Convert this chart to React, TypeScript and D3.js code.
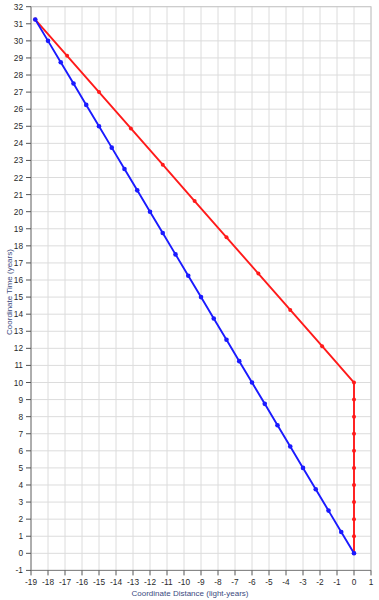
import React from "react";
import * as d3 from "d3";

const blueX = [0, -0.75, -1.5, -2.25, -3, -3.75, -4.5, -5.25, -6, -6.75, -7.5, -8.25, -9, -9.75, -10.5, -11.25, -12, -12.75, -13.5, -14.25, -15, -15.75, -16.5, -17.25, -18, -18.75];
const blueT = [0, 1.25, 2.5, 3.75, 5, 6.25, 7.5, 8.75, 10, 11.25, 12.5, 13.75, 15, 16.25, 17.5, 18.75, 20, 21.25, 22.5, 23.75, 25, 26.25, 27.5, 28.75, 30, 31.25];
const redX = [0, 0, 0, 0, 0, 0, 0, 0, 0, 0, 0, -1.875, -3.75, -5.625, -7.5, -9.375, -11.25, -13.125, -15, -16.875, -18.75];
const redT = [0, 1, 2, 3, 4, 5, 6, 7, 8, 9, 10, 12.125, 14.25, 16.375, 18.5, 20.625, 22.75, 24.875, 27, 29.125, 31.25];
const xTicks = d3.range(-19, 2);
const yTicks = d3.range(-1, 33);
const xTitle = "Coordinate Distance (light-years)";
const yTitle = "Coordinate Time (years)";

export default function App() {
  const W = 379, H = 600;
  const x = d3.scaleLinear().domain([-19, 1]).range([31, 371]);
  const y = d3.scaleLinear().domain([-1, 32]).range([570.4, 6.7]);
  const line = d3.line<[number, number]>().x(d => x(d[0])).y(d => y(d[1]));
  const blue: [number, number][] = blueX.map((v, i) => [v, blueT[i]]);
  const red: [number, number][] = redX.map((v, i) => [v, redT[i]]);
  const font = "Tahoma, 'Liberation Sans', Arial, sans-serif";
  return (
    <svg width={W} height={H} style={{ position: "absolute", left: 0, top: 0, background: "#fff" }} fontFamily={font}>
      <rect x={0} y={0} width={W} height={H} fill="#fff" />
      {xTicks.map(t => (
        <line key={"gx" + t} x1={x(t)} x2={x(t)} y1={y(32)} y2={y(-1)} stroke="#dcdcdc" strokeWidth={1} />
      ))}
      {yTicks.map(t => (
        <line key={"gy" + t} x1={x(-19)} x2={x(1)} y1={y(t)} y2={y(t)} stroke="#dcdcdc" strokeWidth={1} />
      ))}
      <rect x={x(-19)} y={y(32)} width={x(1) - x(-19)} height={y(-1) - y(32)} fill="none" stroke="#c8c8c8" />
      <line x1={x(-19)} x2={x(-19)} y1={y(32)} y2={y(-1)} stroke="#808080" />
      <line x1={x(-19)} x2={x(1)} y1={y(-1)} y2={y(-1)} stroke="#808080" />
      {xTicks.map(t => (
        <g key={"tx" + t}>
          <line x1={x(t)} x2={x(t)} y1={y(-1)} y2={y(-1) + 5} stroke="#555" />
          <text x={x(t)} y={582} fontSize={8.3} fill="#2a2a2a" textAnchor="middle" dominantBaseline="central">{t}</text>
        </g>
      ))}
      {yTicks.map(t => (
        <g key={"ty" + t}>
          <line x1={x(-19) - 5} x2={x(-19)} y1={y(t)} y2={y(t)} stroke="#555" />
          <text x={23} y={y(t)} fontSize={8.3} fill="#2a2a2a" textAnchor="end" dominantBaseline="central">{t}</text>
        </g>
      ))}
      <text x={190} y={593} fontSize={8} fill="#3b4a80" textAnchor="middle" dominantBaseline="central">{xTitle}</text>
      <text transform={`translate(9,292) rotate(-90)`} fontSize={8} fill="#3b4a80" textAnchor="middle" dominantBaseline="central">{yTitle}</text>
      <path d={line(red) || ""} fill="none" stroke="#ff1a1a" strokeWidth={1.9} />
      {red.map((d, i) => (
        <circle key={"r" + i} cx={x(d[0])} cy={y(d[1])} r={2} fill="#ff1a1a" />
      ))}
      <path d={line(blue) || ""} fill="none" stroke="#1a1aff" strokeWidth={1.9} />
      {blue.map((d, i) => (
        <circle key={"b" + i} cx={x(d[0])} cy={y(d[1])} r={2.3} fill="#1a1aff" />
      ))}
    </svg>
  );
}
